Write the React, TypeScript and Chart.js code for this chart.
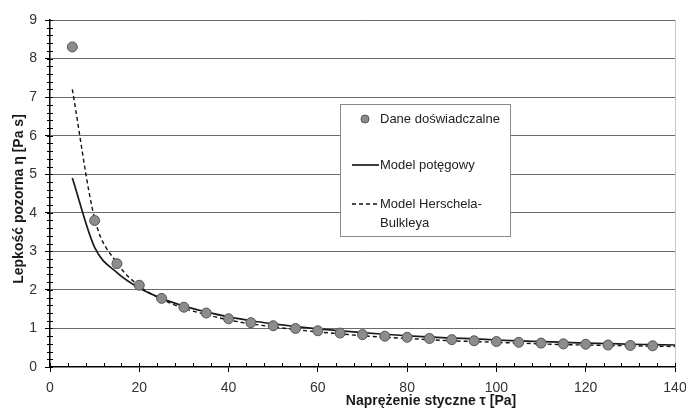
import React, { useEffect, useRef } from "react";
import { Chart, registerables } from "chart.js";

Chart.register(...registerables);

// Experimental data: shear stress tau [Pa] vs apparent viscosity eta [Pa s]
const tauData = [5, 10, 15, 20, 25, 30, 35, 40, 45, 50, 55, 60, 65, 70, 75, 80, 85, 90, 95, 100, 105, 110, 115, 120, 125, 130, 135];
const etaData = [8.3, 3.8, 2.68, 2.12, 1.78, 1.55, 1.4, 1.25, 1.15, 1.07, 1.0, 0.94, 0.88, 0.84, 0.8, 0.77, 0.74, 0.71, 0.68, 0.66, 0.64, 0.62, 0.6, 0.59, 0.57, 0.56, 0.55];

// Model curves
const tauModel = [5, 10, 15, 20, 25, 30, 35, 40, 45, 50, 55, 60, 65, 70, 75, 80, 85, 90, 95, 100, 105, 110, 115, 120, 125, 130, 135, 140];
const powerModel = [4.9, 3.1, 2.45, 2.05, 1.78, 1.58, 1.43, 1.3, 1.2, 1.12, 1.05, 0.99, 0.94, 0.89, 0.85, 0.81, 0.78, 0.75, 0.73, 0.7, 0.68, 0.66, 0.64, 0.62, 0.61, 0.59, 0.58, 0.57];
const hbModel = [7.2, 3.85, 2.7, 2.1, 1.76, 1.52, 1.36, 1.22, 1.12, 1.04, 0.97, 0.91, 0.86, 0.81, 0.77, 0.74, 0.71, 0.68, 0.66, 0.64, 0.62, 0.6, 0.58, 0.57, 0.56, 0.55, 0.54, 0.53];

const seriesLabels = ["Dane doświadczalne", "Model potęgowy", "Model Herschela-Bulkleya"];
const xTitle = "Naprężenie styczne τ [Pa]";
const yTitle = "Lepkość pozorna η [Pa s]";

const FONT = "'Liberation Sans', Arial, sans-serif";

const decorPlugin = {
  id: "decor",
  afterDraw(chart: any) {
    const ctx = chart.ctx;
    const { left, right, top, bottom } = chart.chartArea;
    const xs = chart.scales.x;
    const ys = chart.scales.y;
    ctx.save();
    // right light border
    ctx.strokeStyle = "#c8c8c8";
    ctx.lineWidth = 1;
    ctx.beginPath();
    ctx.moveTo(right + 0.5, top);
    ctx.lineTo(right + 0.5, bottom);
    ctx.stroke();

    // minor ticks
    ctx.strokeStyle = "#000";
    ctx.lineWidth = 1;
    ctx.beginPath();
    for (let v = 0; v <= ys.max + 1e-9; v += 0.2) {
      const py = Math.round(ys.getPixelForValue(v)) + 0.5;
      ctx.moveTo(left - 3, py);
      ctx.lineTo(left + 3, py);
    }
    for (let v = 0; v <= xs.max + 1e-9; v += 4) {
      const px = Math.round(xs.getPixelForValue(v)) + 0.5;
      ctx.moveTo(px, bottom - 4);
      ctx.lineTo(px, bottom);
    }
    ctx.stroke();

    // axis titles
    ctx.fillStyle = "#1a1a1a";
    ctx.font = "bold 14px " + FONT;
    ctx.textAlign = "center";
    ctx.textBaseline = "alphabetic";
    ctx.fillText(xTitle, 431, 405);
    ctx.save();
    ctx.translate(23, 199);
    ctx.rotate(-Math.PI / 2);
    ctx.fillText(yTitle, 0, 0);
    ctx.restore();

    // legend
    const ds = chart.data.datasets;
    ctx.fillStyle = "#fff";
    ctx.fillRect(340.5, 104.5, 170, 132);
    ctx.strokeStyle = "#8a8a8a";
    ctx.lineWidth = 1;
    ctx.strokeRect(340.5, 104.5, 170, 132);

    // marker
    ctx.beginPath();
    ctx.arc(365, 119, 4, 0, Math.PI * 2);
    ctx.fillStyle = ds[0].backgroundColor;
    ctx.fill();
    ctx.strokeStyle = ds[0].borderColor;
    ctx.stroke();

    // solid line
    ctx.strokeStyle = ds[1].borderColor;
    ctx.lineWidth = ds[1].borderWidth;
    ctx.setLineDash([]);
    ctx.beginPath();
    ctx.moveTo(352, 165);
    ctx.lineTo(379, 165);
    ctx.stroke();

    // dashed line
    ctx.strokeStyle = ds[2].borderColor;
    ctx.lineWidth = ds[2].borderWidth;
    ctx.setLineDash(ds[2].borderDash);
    ctx.beginPath();
    ctx.moveTo(352, 204);
    ctx.lineTo(379, 204);
    ctx.stroke();
    ctx.setLineDash([]);

    ctx.fillStyle = "#222";
    ctx.font = "13px " + FONT;
    ctx.textAlign = "left";
    ctx.textBaseline = "middle";
    ctx.fillText(seriesLabels[0], 380, 119);
    ctx.fillText(seriesLabels[1], 380, 165);
    ctx.fillText("Model Herschela-", 380, 204);
    ctx.fillText("Bulkleya", 380, 223);
    ctx.restore();
  },
};

export default function App() {
  const ref = useRef<HTMLCanvasElement | null>(null);
  useEffect(() => {
    document.body.style.margin = "0";
    const canvas = ref.current;
    if (!canvas) return;
    const chart = new Chart(canvas, {
      type: "scatter",
      data: {
        datasets: [
          {
            label: seriesLabels[0],
            data: tauData.map((x, i) => ({ x, y: etaData[i] })),
            backgroundColor: "#8c8c8c",
            borderColor: "#555555",
            borderWidth: 1,
            pointRadius: 5,
            showLine: false,
            order: 0,
          },
          {
            label: seriesLabels[1],
            data: tauModel.map((x, i) => ({ x, y: powerModel[i] })),
            borderColor: "#1a1a1a",
            backgroundColor: "#1a1a1a",
            borderWidth: 1.7,
            pointRadius: 0,
            showLine: true,
            cubicInterpolationMode: "monotone",
            order: 2,
          },
          {
            label: seriesLabels[2],
            data: tauModel.map((x, i) => ({ x, y: hbModel[i] })),
            borderColor: "#111111",
            backgroundColor: "#111111",
            borderWidth: 1.4,
            borderDash: [4, 3],
            pointRadius: 0,
            showLine: true,
            cubicInterpolationMode: "monotone",
            order: 1,
          },
        ] as any,
      },
      options: {
        animation: false,
        responsive: false,
        devicePixelRatio: 1,
        layout: { padding: { top: 20, right: 11, left: 0, bottom: 0 } },
        plugins: { legend: { display: false }, tooltip: { enabled: false } },
        scales: {
          x: {
            type: "linear",
            min: 0,
            max: 140,
            ticks: { stepSize: 20, color: "#333", font: { size: 14, family: FONT }, padding: 8, maxRotation: 0 },
            grid: { drawOnChartArea: false, drawTicks: true, tickLength: 5, tickColor: "#000", lineWidth: 1 },
            border: { color: "#000", width: 1.5 },
            afterFit(scale: any) {
              scale.height = 42;
              scale.paddingLeft = 0;
              scale.paddingRight = 0;
            },
          },
          y: {
            type: "linear",
            min: 0,
            max: 9,
            ticks: { stepSize: 1, color: "#333", font: { size: 14, family: FONT }, padding: 8 },
            grid: {
              color: (c: any) => (c.tick && c.tick.value === 0 ? "rgba(0,0,0,0)" : "#6a6a6a"),
              lineWidth: 1,
              drawTicks: true,
              tickLength: 5,
              tickColor: "#000",
            },
            border: { color: "#000", width: 1.5 },
            afterFit(scale: any) {
              scale.width = 50;
              scale.paddingTop = 0;
              scale.paddingBottom = 0;
            },
          },
        },
      },
      plugins: [decorPlugin],
    });
    return () => chart.destroy();
  }, []);
  return (
    <div style={{ width: 686, height: 409, background: "#fff" }}>
      <canvas ref={ref} width={686} height={409} style={{ display: "block" }} />
    </div>
  );
}
